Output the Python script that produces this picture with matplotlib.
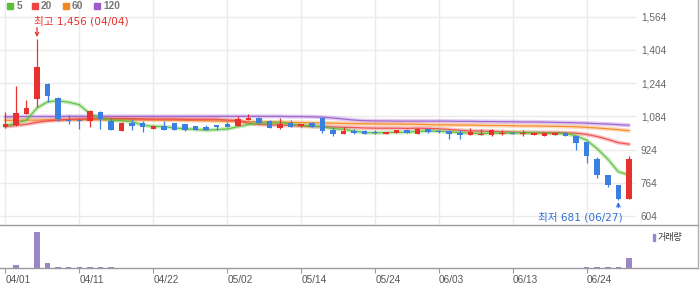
import matplotlib
matplotlib.use("Agg")
import matplotlib.pyplot as plt
import numpy as np
from matplotlib.lines import Line2D
from matplotlib.patches import Rectangle

plt.rcParams['font.family'] = ['Liberation Sans', 'Noto Sans CJK KR']

# trading days (2024, KRX)
dates = ["04/01", "04/02", "04/03", "04/04", "04/05", "04/08", "04/09", "04/11", "04/12", "04/15",
         "04/16", "04/17", "04/18", "04/19", "04/22", "04/23", "04/24", "04/25", "04/26", "04/29",
         "04/30", "05/02", "05/03", "05/07", "05/08", "05/09", "05/10", "05/13", "05/14", "05/16",
         "05/17", "05/20", "05/21", "05/22", "05/23", "05/24", "05/27", "05/28", "05/29", "05/30",
         "05/31", "06/03", "06/04", "06/05", "06/07", "06/10", "06/11", "06/12", "06/13", "06/14",
         "06/17", "06/18", "06/19", "06/20", "06/21", "06/24", "06/25", "06/26", "06/27", "06/28"]

opens = [1032, 1041, 1096, 1168, 1239, 1172, 1064, 1066, 1061, 1104,
         1061, 1014, 1053, 1051, 1024, 1037, 1051, 1046, 1037, 1032,
         1042, 1046, 1037, 1067, 1075, 1061, 1027, 1051, 1037, 1051,
         1075, 1017, 1000, 1014, 1014, 1007, 1000, 1004, 1019, 1000,
         1024, 1012, 1012, 1003, 992, 992, 992, 998, 1003, 997,
         992, 990, 992, 1003, 988, 961, 877, 800, 752, 686]
highs = [1106, 1230, 1162, 1456, 1246, 1178, 1090, 1078, 1114, 1110,
         1074, 1058, 1070, 1060, 1043, 1062, 1051, 1046, 1037, 1042,
         1042, 1056, 1086, 1095, 1081, 1066, 1075, 1066, 1046, 1056,
         1075, 1032, 1032, 1025, 1017, 1017, 1009, 1019, 1024, 1028,
         1024, 1020, 1018, 1017, 1030, 1025, 1022, 1017, 1008, 1019,
         1003, 1003, 1003, 1003, 988, 961, 888, 800, 752, 892]
lows = [1028, 1038, 1096, 1130, 1151, 1062, 1046, 1024, 1033, 1024,
        1019, 1014, 1017, 1010, 1024, 1017, 1017, 1012, 1017, 1017,
        1019, 1032, 1037, 1067, 1046, 1027, 1024, 1033, 1033, 1033,
        1004, 990, 1000, 1000, 1000, 1000, 1000, 1004, 1004, 1000,
        1004, 1004, 977, 977, 992, 992, 987, 992, 998, 988,
        992, 990, 992, 990, 924, 860, 789, 746, 681, 686]
closes = [1045, 1099, 1124, 1321, 1183, 1069, 1062, 1064, 1109, 1072,
          1019, 1051, 1037, 1032, 1037, 1017, 1017, 1017, 1017, 1017,
          1032, 1032, 1070, 1075, 1051, 1027, 1046, 1033, 1046, 1033,
          1014, 1000, 1012, 1004, 1000, 1004, 1009, 1019, 1004, 1024,
          1009, 1009, 997, 992, 1007, 1000, 1017, 1003, 998, 1005,
          1003, 1003, 1003, 990, 955, 892, 800, 752, 688, 880]
volumes = [20000, 410000, 30000, 5400000, 710000, 110000, 110000, 110000, 110000, 110000,
           110000, 20000, 15000, 15000, 10000, 10000, 10000, 10000, 10000, 10000,
           10000, 10000, 15000, 15000, 10000, 10000, 10000, 10000, 10000, 10000,
           15000, 10000, 10000, 10000, 10000, 10000, 10000, 10000, 10000, 10000,
           10000, 10000, 10000, 10000, 10000, 10000, 10000, 10000, 10000, 10000,
           10000, 10000, 10000, 10000, 30000, 40000, 100000, 40000, 110000, 1470000]

ma5 = [1040, 1050, 1066, 1124, 1154, 1159, 1152, 1140, 1097, 1075,
       1065, 1063, 1058, 1042, 1035, 1035, 1028, 1024, 1021, 1017,
       1020, 1023, 1034, 1045, 1052, 1051, 1054, 1046, 1041, 1037,
       1034, 1025, 1021, 1013, 1006, 1004, 1006, 1007, 1007, 1012,
       1013, 1013, 1009, 1006, 1003, 1001, 1003, 1004, 1005, 1005,
       1005, 1002, 1002, 1001, 991, 969, 928, 878, 817, 802]
ma20 = [1035, 1040, 1046, 1055, 1062, 1066, 1069, 1071, 1073, 1074,
        1074, 1074, 1073, 1072, 1071, 1071, 1071, 1070, 1070, 1070,
        1070, 1066, 1064, 1051, 1045, 1043, 1042, 1040, 1037, 1035,
        1035, 1033, 1031, 1030, 1028, 1027, 1027, 1027, 1026, 1027,
        1026, 1024, 1021, 1017, 1014, 1013, 1012, 1010, 1008, 1006,
        1006, 1006, 1006, 1005, 1003, 997, 987, 973, 957, 950]
ma60 = [1065, 1065, 1066, 1066, 1067, 1067, 1068, 1068, 1068, 1068,
        1068, 1068, 1068, 1067, 1067, 1066, 1066, 1065, 1064, 1063,
        1062, 1061, 1060, 1059, 1058, 1057, 1056, 1055, 1054, 1053,
        1052, 1051, 1050, 1049, 1048, 1048, 1047, 1047, 1046, 1046,
        1044, 1043, 1043, 1042, 1042, 1041, 1040, 1040, 1039, 1038,
        1038, 1037, 1036, 1035, 1034, 1031, 1028, 1024, 1020, 1015]
ma120 = [1082, 1082, 1083, 1083, 1083, 1083, 1084, 1084, 1084, 1084,
         1084, 1084, 1084, 1084, 1084, 1084, 1084, 1084, 1084, 1084,
         1084, 1084, 1084, 1084, 1084, 1084, 1084, 1083, 1083, 1082,
         1080, 1076, 1071, 1066, 1063, 1062, 1062, 1061, 1061, 1061,
         1061, 1061, 1061, 1060, 1060, 1059, 1059, 1058, 1058, 1057,
         1057, 1056, 1055, 1054, 1053, 1051, 1049, 1047, 1044, 1041]

tick_dates = ["04/01", "04/11", "04/22", "05/02", "05/14", "05/24", "06/03", "06/13", "06/24"]
price_ticks = [604, 764, 924, 1084, 1244, 1404, 1564]

ma_names = ["5", "20", "60", "120"]
ma_colors = ["#5cbf3a", "#ee4646", "#f5861f", "#9c5bcf"]

RED = "#e8302c"
BLUE = "#3b7fe0"
W, H = 700, 289


def box(x0, y0, x1, y1):
    return [x0 / W, 1 - y1 / H, (x1 - x0) / W, (y1 - y0) / H]


fig = plt.figure(figsize=(7, 2.89), dpi=100)
ax = fig.add_axes(box(0, 0, 636, 225.3))
vax = fig.add_axes(box(0, 225.3, 636, 267.7))

x = np.arange(len(dates))
o, h, l, c = map(np.array, (opens, highs, lows, closes))
colors = np.where(c >= o, RED, BLUE)

# moving averages with a soft halo
for ma, col in zip([ma120, ma60, ma20, ma5], ma_colors[::-1]):
    ax.plot(x, ma, color=col, lw=3, alpha=0.3, zorder=2, solid_capstyle='round')
    ax.plot(x, ma, color=col, lw=0.9, alpha=0.9, zorder=2)

# candles
ax.vlines(x, l, h, color=colors, lw=0.9, zorder=3)
mid = (o + c) / 2
bh = np.maximum(np.abs(c - o), 4)
ax.bar(x, bh, bottom=mid - bh / 2, width=0.52, color=colors, lw=0, zorder=4)

ax.set_xlim(-0.5, 59.67)
ax.set_ylim(559.1, 1644.6)
tick_idx = [dates.index(d) for d in tick_dates]
ax.set_xticks(tick_idx)
ax.set_yticks(price_ticks)
ax.set_yticklabels(['{:,}'.format(p) for p in price_ticks])
ax.yaxis.tick_right()
ax.tick_params(axis='x', length=0, labelbottom=False)
ax.tick_params(axis='y', length=0, pad=3.5, labelsize=7.2, labelcolor='#666666')
ax.grid(color='#ebebeb', lw=1, zorder=0)
for s in ax.spines.values():
    s.set_visible(False)
ax.patch.set_alpha(0)

# high / low marks
hi = int(np.argmax(h))
lo = int(np.argmin(l))
ann = ['DejaVu Sans', 'Noto Sans CJK KR']
ax.annotate('최고 {:,} ({})'.format(h[hi], dates[hi]), xy=(hi, h[hi]),
            xytext=(-2.2, 13.2), textcoords='offset points', ha='left', va='center',
            color='#e8302c', fontsize=7.6, family=ann)
ax.annotate('', xy=(hi, h[hi] + 10), xytext=(hi, h[hi] + 56),
            arrowprops=dict(arrowstyle='->', color='#e8302c', lw=0.9, mutation_scale=6,
                            shrinkA=0, shrinkB=0))
ax.annotate('최저 {:,} ({})'.format(l[lo], dates[lo]), xy=(lo, l[lo]),
            xytext=(3.4, -12.2), textcoords='offset points', ha='right', va='center',
            color='#2f6fd6', fontsize=7.6, family=ann)
ax.annotate('', xy=(lo, l[lo] - 10), xytext=(lo, l[lo] - 37),
            arrowprops=dict(arrowstyle='->', color='#2f6fd6', lw=0.9, mutation_scale=6,
                            shrinkA=0, shrinkB=0))

# volume
vax.bar(x, volumes, width=0.52, color='#9b87c8', lw=0)
vax.set_xlim(-0.5, 59.67)
vax.set_ylim(0, 6.41e6)
vax.set_yticks([])
vax.set_xticks(tick_idx)
vax.set_xticklabels(tick_dates)
for t in vax.get_xticklabels():
    t.set_ha('left')
vax.tick_params(axis='x', length=3.6, color='#999999', pad=2, labelsize=7.2,
                labelcolor='#555555')
for s in vax.spines.values():
    s.set_visible(False)
vax.patch.set_alpha(0)


def fx(px_):
    return px_ / W


def fy(py_):
    return 1 - py_ / H


# frame lines
for yy in (225.3, 267.7):
    fig.add_artist(Line2D([0, fx(698)], [fy(yy), fy(yy)], color='#9a9a9a', lw=1,
                          transform=fig.transFigure))
fig.add_artist(Line2D([fx(697.5), fx(697.5)], [fy(0), fy(267.7)], color='#b0b0b0', lw=1,
                      transform=fig.transFigure))

# legend
sq_x = [7.3, 31.7, 62.7, 94.3]
for name, col, sx in zip(ma_names, ma_colors, sq_x):
    fig.add_artist(Rectangle((fx(sx), fy(8.7)), 6 / W, 6 / H, color=col,
                             transform=fig.transFigure))
    fig.text(fx(sx + 9), fy(6), name, color='#777777', fontsize=7.3, fontweight='bold',
             va='center', ha='left')

fig.add_artist(Rectangle((fx(652.7), fy(241.3)), 2.7 / W, 7.3 / H, color='#9b87c8',
                         transform=fig.transFigure))
fig.text(fx(658), fy(237.5), '거래량', color='#333333', fontsize=6.5, va='center', ha='left',
         family=['Noto Sans CJK KR'])

fig.savefig('out.png', dpi=100)
